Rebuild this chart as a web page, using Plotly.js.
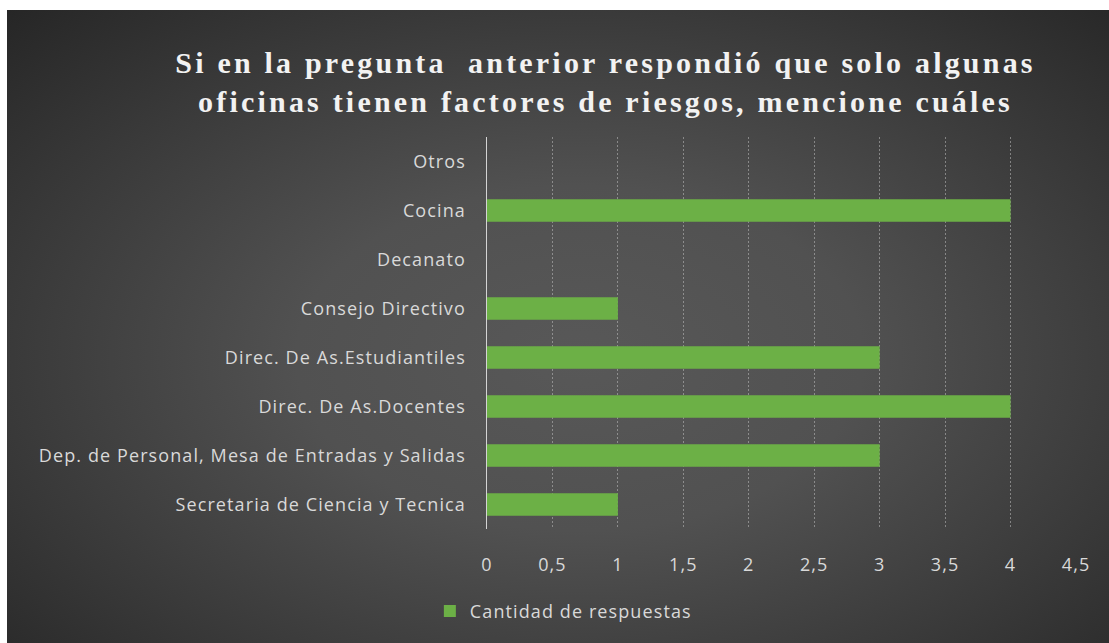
<!DOCTYPE html>
<html>
<head>
<meta charset="utf-8">
<script src="https://cdn.plot.ly/plotly-3.0.1.min.js"></script>
<style>
  html, body { margin: 0; padding: 0; background: #ffffff; width: 1109px; height: 643px; overflow: hidden; }
  #bg { position: absolute; left: 7px; top: 10px; width: 1102px; height: 633px;
        background: radial-gradient(ellipse farthest-corner at 52% 55%, #585858 0%, #515151 35%, #3a3a3a 70%, #262626 100%); }
  #chart { position: absolute; left: 0; top: 0; width: 1109px; height: 643px; }
  .gtitle { letter-spacing: 3.2px; }
  .ytick text, .xtick text, .legendtext { letter-spacing: 1.1px; }
</style>
</head>
<body>
<div id="bg"></div>
<div id="chart"></div>
<script>
const categories = [
  "Secretaria de Ciencia y Tecnica",
  "Dep. de Personal, Mesa de Entradas y Salidas",
  "Direc. De As.Docentes",
  "Direc. De As.Estudiantiles",
  "Consejo Directivo",
  "Decanato",
  "Cocina",
  "Otros"
];
const values = [1, 3, 4, 3, 1, 0, 4, 0];
const seriesName = "Cantidad de respuestas";
const xTickVals = [0, 0.5, 1, 1.5, 2, 2.5, 3, 3.5, 4, 4.5];
const xTickText = ["0", "0,5", "1", "1,5", "2", "2,5", "3", "3,5", "4", "4,5"];
const titleText = "Si en la pregunta  anterior respondió que solo algunas<br>oficinas tienen factores de riesgos, mencione cuáles";

const trace = {
  type: "bar",
  orientation: "h",
  y: categories,
  x: values,
  name: seriesName,
  width: 0.46,
  marker: { color: "#6cb046", line: { width: 0 } },
  showlegend: true
};

const tickFont = { family: "Open Sans, Noto Sans, sans-serif", size: 18, color: "#d9d9d9" };

const layout = {
  width: 1109,
  height: 643,
  paper_bgcolor: "rgba(0,0,0,0)",
  plot_bgcolor: "rgba(0,0,0,0)",
  margin: { l: 487, r: 33, t: 137, b: 114 },
  title: {
    text: titleText,
    font: { family: "Liberation Serif, Times New Roman, serif", size: 30, color: "#f2f2f2", weight: "bold" },
    x: 0.546, xanchor: "center", xref: "container",
    y: 0.887, yanchor: "middle", yref: "container"
  },
  xaxis: {
    range: [0, 4.5],
    tickvals: xTickVals,
    ticktext: xTickText,
    showgrid: true,
    gridcolor: "rgba(200,200,200,0.5)",
    griddash: "2px,2px",
    gridwidth: 1,
    zeroline: false,
    showline: false,
    ticks: "",
    ticklabelstandoff: 23,
    tickfont: tickFont,
    fixedrange: true
  },
  yaxis: {
    type: "category",
    showgrid: false,
    zeroline: false,
    showline: true,
    linecolor: "rgba(235,235,235,0.85)",
    linewidth: 1.5,
    ticks: "",
    ticklabelstandoff: 16,
    tickfont: tickFont,
    fixedrange: true
  },
  legend: {
    orientation: "h",
    x: -0.097, xanchor: "left",
    y: -0.21, yanchor: "middle",
    font: tickFont,
    bgcolor: "rgba(0,0,0,0)"
  },
  bargap: 0.5
};

Plotly.newPlot("chart", [trace], layout, { displayModeBar: false, staticPlot: true });
</script>
</body>
</html>
